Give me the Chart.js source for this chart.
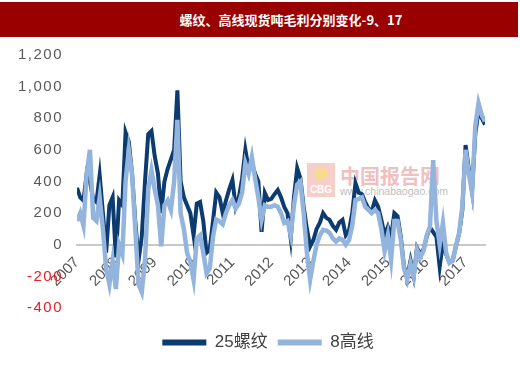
<!DOCTYPE html>
<html><head><meta charset="utf-8">
<script src="https://cdn.jsdelivr.net/npm/chart.js@4.4.0/dist/chart.umd.min.js"></script>
<style>
html,body{margin:0;padding:0;background:#fff;width:520px;height:369px;overflow:hidden}
#wrap{position:relative;width:520px;height:369px}
#bar{position:absolute;left:0;top:2px;width:518px;height:35px;background:#990000;color:#fff;font:bold 13px "Noto Sans CJK SC",sans-serif;line-height:35px;text-align:center;padding-left:64px;box-sizing:border-box;z-index:3}
#logo{position:absolute;left:307px;top:163px;width:28px;height:34px;background:#f7cfca;z-index:0}
#logo span{position:absolute;left:0;right:0;bottom:2px;text-align:center;color:#fff;font:bold 10px "Liberation Sans",sans-serif}
#logo i{position:absolute;left:7px;top:5px;width:14px;height:12px;border-radius:50%;background:#f6dc8c}
#wm1{position:absolute;left:340px;top:161px;font:bold 20px "Noto Sans CJK SC",sans-serif;color:rgba(222,110,110,0.45);z-index:0}
#wm2{position:absolute;left:340px;top:185px;font:10.5px "Liberation Sans",sans-serif;color:#bdbdbd;z-index:0}
canvas{position:absolute;left:0;top:0;z-index:1}
</style></head>
<body><div id="wrap">
<div id="bar">螺纹、高线现货吨毛利分别变化-9、17</div>
<div id="logo"><i></i><span>CBG</span></div>
<div id="wm1">中国报告网</div>
<div id="wm2">www.chinabaogao.com</div>
<canvas id="c" width="520" height="369"></canvas>
</div>
<script>
// monthly observations, Jan 2007 onward
const seriesNames = ['25螺纹', '8高线'];
const rebar = [360,300,280,450,400,290,270,440,200,-50,250,300,
  -80,280,250,710,650,450,150,-100,50,400,700,720,
  560,450,200,400,480,540,600,976,400,300,250,200,
  60,260,270,150,-50,-30,150,330,300,200,280,350,
  410,240,300,420,600,480,515,450,400,82,328,283,
  290,320,346,300,240,200,40,300,485,420,240,100,
  -10,30,100,140,200,170,157,120,95,140,157,60,
  90,200,390,330,320,270,230,210,280,240,157,60,
  113,50,200,180,50,-140,-200,-100,-200,-20,-60,-30,
  50,110,80,50,-140,12,-60,-110,-100,-12,70,220,
  630,480,340,700,850,800,760];
const wire = [150,200,120,450,600,170,150,300,100,-150,-250,-100,
  -280,0,-60,400,600,450,100,-250,-300,-100,350,470,
  350,250,-10,250,280,220,400,790,200,100,-50,-110,
  -220,40,60,-50,-180,-150,50,160,150,130,200,250,
  283,230,260,330,515,450,554,420,300,157,250,240,
  240,250,240,200,138,150,60,250,380,400,200,-50,
  -220,-100,0,60,95,90,75,40,20,40,31,0,
  30,120,283,290,300,240,220,200,220,200,100,-40,
  60,-95,150,150,30,-150,-220,-120,-200,-30,-80,-40,
  60,113,535,150,0,138,-50,-115,-100,-12,75,240,
  600,450,330,750,895,820,780];
const startYear = 2007;
const yearTicks = [2007,2008,2009,2010,2011,2012,2013,2014,2015,2016,2017];
const valueTicks = [-400,-200,0,200,400,600,800,1000,1200];

const xOf = i => startYear + i / 12;
const toPts = arr => arr.map((v, i) => ({x: xOf(i), y: v}));

Chart.defaults.font.family = "'Liberation Sans','Noto Sans CJK SC',sans-serif";

const ySpacing = {
  id: 'ySpacing',
  beforeDraw(chart) {
    const s = chart.scales.y;
    if (s && !s._spaced) {
      const orig = s.drawLabels;
      s.drawLabels = function (a) {
        const c = this.ctx; c.save(); c.letterSpacing = '1.5px'; orig.call(this, a); c.restore();
      };
      s._spaced = true;
    }
  }
};

new Chart(document.getElementById('c'), {
  type: 'line',
  data: {
    datasets: [
      {label: seriesNames[0], data: toPts(rebar), borderColor: '#0c3b70', backgroundColor: '#0c3b70',
       borderWidth: 4, pointRadius: 0, tension: 0, order: 2, yAxisID: 'y'},
      {label: seriesNames[1], data: toPts(wire), borderColor: '#93b4dc', backgroundColor: '#93b4dc',
       borderWidth: 4.5, pointRadius: 0, tension: 0, order: 1, yAxisID: 'y'}
    ]
  },
  plugins: [ySpacing],
  options: {
    responsive: false, animation: false, devicePixelRatio: 1,
    layout: {padding: {top: 55, left: 0, right: -16, bottom: 8}},
    scales: {
      x: {type: 'linear', axis: 'x', position: {y: 0}, min: startYear, max: xOf(rebar.length - 1),
        grid: {display: false, drawTicks: false},
        border: {display: true, color: '#c8c8c8', width: 2},
        afterBuildTicks: s => { s.ticks = yearTicks.map(v => ({value: v})); },
        ticks: {autoSkip: false, minRotation: 45, maxRotation: 45, padding: 9, color: '#595959',
          font: {size: 15}, callback: v => String(v)}},
      y: {type: 'linear', position: 'left', min: -400, max: 1200,
        grid: {display: false, drawTicks: false}, border: {display: false},
        afterBuildTicks: s => { s.ticks = valueTicks.map(v => ({value: v})); },
        afterFit: s => { s.width = 77; },
        ticks: {padding: 14, font: {size: 15},
          color: c => (c.tick && c.tick.value < 0) ? '#e8202a' : '#595959',
          callback: v => v.toLocaleString('en-US')}},
      y2: {type: 'linear', position: 'right', display: true,
        grid: {display: false, drawTicks: false}, border: {display: false},
        ticks: {display: false}, afterFit: s => { s.width = 51; }}
    },
    plugins: {
      tooltip: {enabled: false},
      legend: {position: 'bottom',
        title: {display: true, text: ' ', font: {size: 10}, padding: {top: 2, bottom: 2}},
        labels: {boxWidth: 44, boxHeight: 6, padding: 10, color: '#404040', font: {size: 17},
          sort: (a, b) => a.datasetIndex - b.datasetIndex,
          generateLabels: ch => Chart.defaults.plugins.legend.labels.generateLabels(ch)
            .map(l => Object.assign({}, l, {lineWidth: 0, fillStyle: l.strokeStyle}))}}
    }
  }
});
</script>
</body></html>
